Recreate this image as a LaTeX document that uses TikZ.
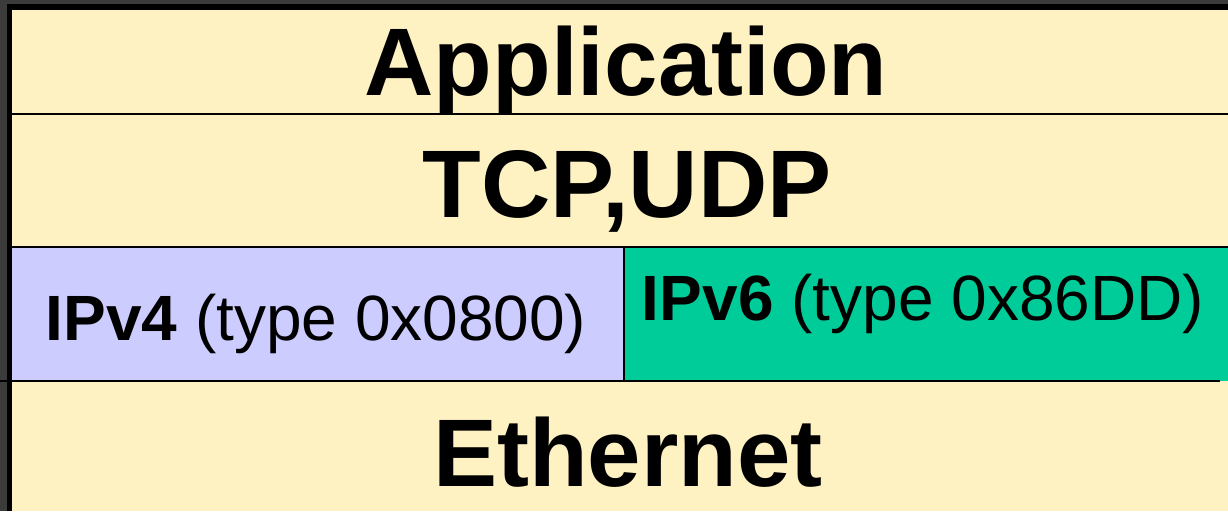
\documentclass[tikz,border=0pt]{standalone}
\usepackage{fontspec}
\setmainfont{Liberation Sans}
\definecolor{framegray}{HTML}{3B3B3B}
\definecolor{cream}{HTML}{FEF2C3}
\definecolor{ipvfour}{HTML}{CCCCFF}
\definecolor{ipvsix}{HTML}{00CC99}

\begin{document}
\begin{tikzpicture}[x=0.5pt,y=-0.5pt,
  layer/.style={font=\fontsize{48}{50}\selectfont\bfseries, anchor=base, inner sep=0pt},
  iplabel/.style={font=\fontsize{32}{34}\selectfont, anchor=base, inner sep=0pt},
  sep/.style={line width=1.2pt}]
\useasboundingbox (0,0) rectangle (1228,511);
\fill[framegray] (0,0) rectangle (1228,511);
\fill[cream] (12,10) rectangle (1228,511);
\fill[ipvfour] (12,247) rectangle (624,381);
\fill[ipvsix] (624,247) rectangle (1228,381);

% outer frame
\draw[line width=3pt] (9,7) -- (1228,7);
\draw[line width=2.8pt] (9.5,4) -- (9.5,511);

% layer boundaries
\draw[sep] (12,114) -- (1228,114);
\draw[sep] (12,247) -- (1228,247);
\draw[sep] (0,381) -- (1220,381);
\draw[sep] (624,247) -- (624,381);

\node[layer] (app) at (626,95) {Application};
\node[layer] (tcp) at (627,217) {TCP,UDP};
\node[iplabel] (ipv4) at (316,340) {\textbf{IPv4} (type 0x0800)};
\node[iplabel] (ipv6) at (923,320) {\textbf{IPv6} (type 0x86DD)};
\node[layer] (eth) at (628,486) {Ethernet};
\end{tikzpicture}
\end{document}
